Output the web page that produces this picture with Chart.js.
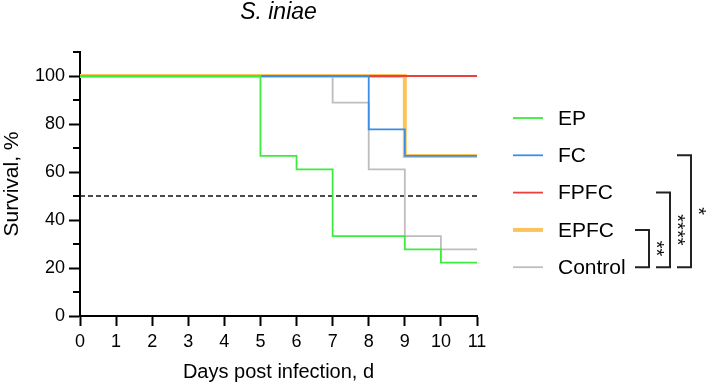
<!DOCTYPE html>
<html>
<head>
<meta charset="utf-8">
<script src="https://cdn.jsdelivr.net/npm/chart.js@4/dist/chart.umd.min.js"></script>
<style>
  html, body { margin: 0; padding: 0; background: #fff; }
  #wrap { width: 707px; height: 387px; }
</style>
</head>
<body>
<div id="wrap"><canvas id="survivalChart" width="707" height="387"></canvas></div>
<script>
// Kaplan-Meier style survival curves (days post infection vs survival %)
const seriesNames = ['EP', 'FC', 'FPFC', 'EPFC', 'Control'];

const epDays = [0, 5, 6, 7, 9, 10, 11];
const epSurvival = [100, 66.7, 61.1, 33.3, 27.8, 22.2, 22.2];

const fcDays = [0, 8, 9, 11];
const fcSurvival = [100, 77.8, 66.7, 66.7];

const fpfcDays = [0, 11];
const fpfcSurvival = [100, 100];

const epfcDays = [0, 9, 11];
const epfcSurvival = [100, 66.7, 66.7];

const controlDays = [0, 7, 8, 9, 10, 11];
const controlSurvival = [100, 88.9, 61.1, 33.3, 27.8, 27.8];

const medianDays = [0, 11];
const medianLine = [50, 50];

const xTicks = [0, 1, 2, 3, 4, 5, 6, 7, 8, 9, 10, 11];
const yTickLabels = [0, 20, 40, 60, 80, 100];

// significance brackets: [upper group, lower group, label]
const comparisons = [
    ['EPFC', 'Control', '**'],
    ['FPFC', 'Control', '****'],
    ['FC', 'Control', '*']
];

const colors = {
    EP: '#3cec3c',
    FC: '#3a8ee6',
    FPFC: '#e8403c',
    EPFC: '#fbc35c',
    Control: '#bdbdbd'
};
const FONT = 'Arial, "Liberation Sans", Helvetica, sans-serif';

function points(xs, ys) {
    return xs.map((x, i) => ({ x: x, y: ys[i] }));
}

function stepSet(label, xs, ys, width) {
    return {
        label: label,
        data: points(xs, ys),
        borderColor: colors[label],
        borderWidth: width,
        stepped: true,
        pointRadius: 0,
        fill: false
    };
}

// draw order: index 0 ends up on top
const datasets = [
    stepSet('EP', epDays, epSurvival, 1.8),
    stepSet('FC', fcDays, fcSurvival, 1.8),
    stepSet('Control', controlDays, controlSurvival, 1.8),
    stepSet('FPFC', fpfcDays, fpfcSurvival, 1.8),
    stepSet('EPFC', epfcDays, epfcSurvival, 4),
    {
        label: 'median',
        data: points(medianDays, medianLine),
        borderColor: '#111',
        borderWidth: 1.3,
        borderDash: [5, 3],
        pointRadius: 0,
        fill: false
    }
];

const decorations = {
    id: 'decorations',
    afterDraw(chart) {
        const ctx = chart.ctx;
        const area = chart.chartArea;
        const yScale = chart.scales.y;
        ctx.save();

        // minor ticks on the y axis
        ctx.strokeStyle = '#000';
        ctx.lineWidth = 2;
        for (let v = 10; v <= 110; v += 20) {
            const py = Math.round(yScale.getPixelForValue(v));
            ctx.beginPath();
            ctx.moveTo(area.left - 7, py);
            ctx.lineTo(area.left, py);
            ctx.stroke();
        }

        // title
        ctx.fillStyle = '#000';
        ctx.textAlign = 'center';
        ctx.textBaseline = 'middle';
        ctx.font = 'italic 23px ' + FONT;
        ctx.fillText('S. iniae', (area.left + area.right) / 2, 13);

        // axis titles
        ctx.font = '20px ' + FONT;
        ctx.fillText('Days post infection, d', (area.left + area.right) / 2, 372);
        ctx.save();
        ctx.translate(12, (area.top + area.bottom) / 2);
        ctx.rotate(-Math.PI / 2);
        ctx.font = '21px ' + FONT;
        ctx.fillText('Survival, %', 0, 0);
        ctx.restore();

        // legend
        const rowY = {};
        const legendX = area.right + 36;
        seriesNames.forEach((name, i) => {
            const y = area.top + 66 + i * 37.3;
            rowY[name] = y;
            ctx.strokeStyle = colors[name];
            ctx.lineWidth = name === 'EPFC' ? 4 : 1.8;
            ctx.beginPath();
            ctx.moveTo(legendX, y);
            ctx.lineTo(legendX + 30, y);
            ctx.stroke();
            ctx.fillStyle = '#000';
            ctx.textAlign = 'left';
            ctx.font = '21px ' + FONT;
            ctx.fillText(name, legendX + 45, y + 1);
        });

        // significance brackets
        ctx.strokeStyle = '#222';
        ctx.lineWidth = 2;
        let armLeft = legendX + 122;
        comparisons.forEach(([top, bottom, label]) => {
            const y1 = rowY[top];
            const y2 = rowY[bottom];
            const armRight = armLeft + 14;
            ctx.beginPath();
            ctx.moveTo(armLeft, y1);
            ctx.lineTo(armRight, y1);
            ctx.lineTo(armRight, y2);
            ctx.lineTo(armLeft, y2);
            ctx.stroke();
            ctx.save();
            ctx.translate(armRight + 7, (y1 + y2) / 2);
            ctx.rotate(Math.PI / 2);
            ctx.fillStyle = '#111';
            ctx.textAlign = 'center';
            ctx.textBaseline = 'middle';
            ctx.font = '20px ' + FONT;
            ctx.fillText(label, 0, 0);
            ctx.restore();
            armLeft = armRight + 7;
        });

        ctx.restore();
    }
};

new Chart(document.getElementById('survivalChart'), {
    type: 'line',
    data: { datasets: datasets },
    options: {
        responsive: false,
        animation: false,
        layout: { padding: { top: 52, right: 230, left: 0, bottom: 0 } },
        plugins: {
            legend: { display: false },
            tooltip: { enabled: false }
        },
        scales: {
            x: {
                type: 'linear',
                min: 0,
                max: 11,
                afterFit: (scale) => { scale.height = 71; },
                afterBuildTicks: (scale) => { scale.ticks = xTicks.map(v => ({ value: v })); },
                ticks: {
                    stepSize: 1,
                    color: '#000',
                    padding: 5,
                    font: { family: FONT, size: 18 },
                    maxRotation: 0
                },
                grid: {
                    drawOnChartArea: false,
                    tickLength: 10,
                    tickWidth: 2,
                    tickColor: '#000'
                },
                border: { color: '#000', width: 2 }
            },
            y: {
                min: 0,
                max: 110,
                afterFit: (scale) => { scale.width = 80; },
                afterBuildTicks: (scale) => { scale.ticks = yTickLabels.map(v => ({ value: v })); },
                ticks: {
                    color: '#000',
                    padding: 4,
                    font: { family: FONT, size: 18 }
                },
                grid: {
                    drawOnChartArea: false,
                    tickLength: 11,
                    tickWidth: 2,
                    tickColor: '#000'
                },
                border: { color: '#000', width: 2 }
            }
        }
    },
    plugins: [decorations]
});
</script>
</body>
</html>
